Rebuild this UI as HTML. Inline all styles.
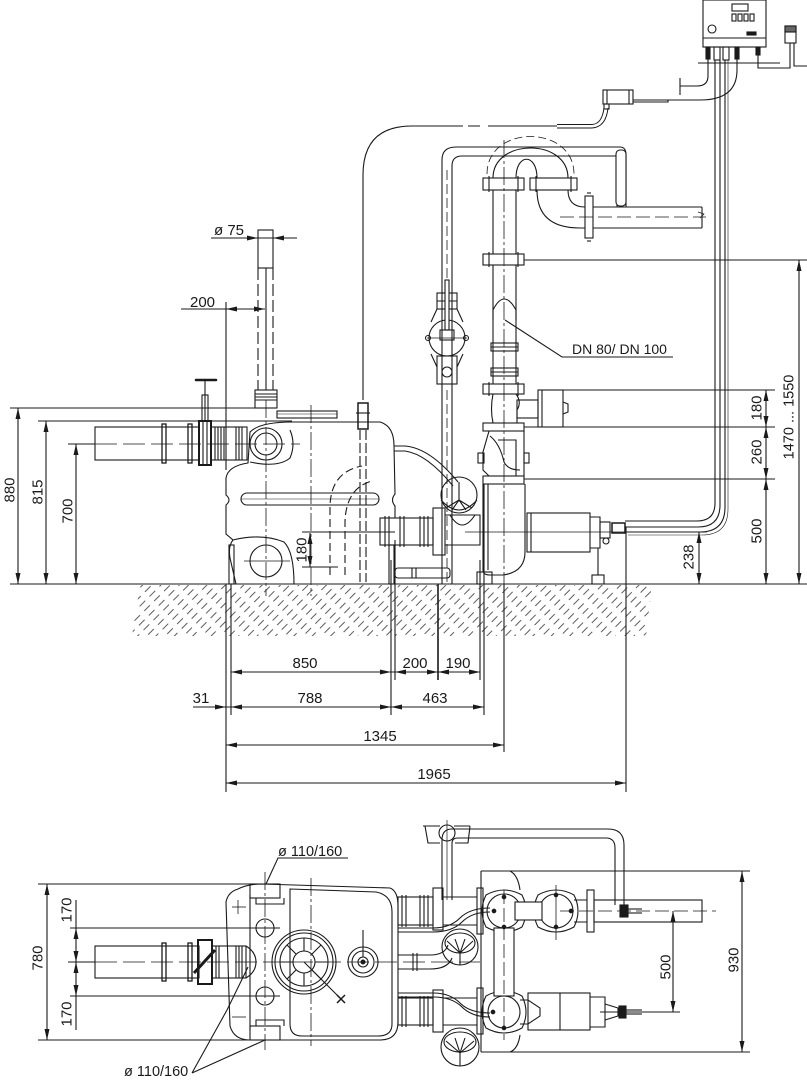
<!DOCTYPE html>
<html><head><meta charset="utf-8"><style>
html,body{margin:0;padding:0;background:#fff;}
svg{display:block;}
text{font-family:"Liberation Sans",sans-serif;font-size:15px;fill:#1a1a1a;}
</style></head><body>
<svg width="807" height="1080" viewBox="0 0 807 1080" xmlns="http://www.w3.org/2000/svg">
<defs>
<pattern id="h" width="6.5" height="14" patternUnits="userSpaceOnUse" patternTransform="rotate(45)">
<line x1="1" y1="0" x2="1" y2="8" stroke="#333" stroke-width="0.8"/>
</pattern>
</defs>

<!-- ground hatch -->
<polygon points="140,585 652,585 646,636 132,636" fill="url(#h)" stroke="none"/>

<g fill="none" stroke="#1a1a1a" stroke-width="1.1">
<!-- ground line -->
<line x1="10" y1="584" x2="807" y2="584"/>

<!-- ===== LEFT DIMENSIONS (side view) ===== -->
<line x1="10" y1="408" x2="256" y2="408"/>
<line x1="38" y1="421" x2="292" y2="421"/>
<line x1="68" y1="444" x2="95" y2="444"/>
<line x1="18" y1="408" x2="18" y2="584"/>
<line x1="46" y1="421" x2="46" y2="584"/>
<line x1="76" y1="444" x2="76" y2="584"/>

<!-- ø75 & 200 dims -->
<line x1="211" y1="238" x2="297" y2="238"/>
<line x1="181" y1="309" x2="265" y2="309"/>
<line x1="226" y1="302" x2="226" y2="470"/>
<line x1="226" y1="584" x2="226" y2="792"/>

<!-- inlet pipe (side) -->
<rect x="95" y="427" width="104" height="33"/>
<rect x="162" y="424" width="4" height="39" stroke-width="1.3"/>
<rect x="188" y="424" width="4" height="39" stroke-width="1.3"/>
<rect x="199" y="421" width="12" height="44" stroke-width="2"/>
<line x1="203" y1="421" x2="203" y2="465"/>
<line x1="207" y1="421" x2="207" y2="465"/>
<rect x="211" y="427" width="36" height="33"/>
<line x1="215" y1="427" x2="215" y2="460"/><line x1="218" y1="427" x2="218" y2="460"/>
<line x1="221" y1="427" x2="221" y2="460"/><line x1="224" y1="427" x2="224" y2="460"/>
<line x1="236" y1="427" x2="236" y2="460"/><line x1="239" y1="427" x2="239" y2="460"/>
<line x1="242" y1="427" x2="242" y2="460"/>
<line x1="95" y1="444" x2="300" y2="444" stroke-dasharray="22 6" stroke-width="0.8"/>
<!-- handle -->
<line x1="205" y1="380" x2="205" y2="421"/>
<rect x="202" y="395" width="6" height="26"/>
<line x1="196" y1="380" x2="216" y2="380" stroke-width="2.5" stroke-linecap="round"/>

<!-- vent pipe ø75 -->
<rect x="258" y="230" width="15" height="38"/>
<line x1="258" y1="268" x2="258" y2="390" stroke-dasharray="12 4"/>
<line x1="273" y1="268" x2="273" y2="390" stroke-dasharray="12 4"/>
<line x1="266" y1="268" x2="266" y2="390"/>
<rect x="255" y="390" width="22" height="18"/>
<line x1="255" y1="394" x2="277" y2="394"/><line x1="255" y1="397" x2="277" y2="397"/><line x1="255" y1="400" x2="277" y2="400"/>
<rect x="277" y="411" width="60" height="7"/>
<line x1="277" y1="414" x2="337" y2="414" stroke-width="0.6"/>

<!-- tank body (side) -->
<path d="M236,584 L230,558 Q228,546 233,540 L226,534 L226,505 Q232,500 226,495 L226,478 Q228,466 248,463 L250,432 Q260,422 292,422 L380,422 Q394,426 394,446 L395,494 Q390,500 395,506 L395,518"/>
<path d="M233,540 Q262,533 284,542 Q294,552 294,584"/>
<path d="M250,462 Q278,468 290,458 Q296,444 290,430"/>
<circle cx="266" cy="444" r="16"/><circle cx="266" cy="444" r="11"/>
<circle cx="266" cy="561" r="16"/>
<rect x="241" y="493" width="138" height="12" rx="6"/>
<line x1="241" y1="499" x2="379" y2="499" stroke-width="0.6"/>
<line x1="266" y1="400" x2="266" y2="596" stroke-dasharray="18 3 3 3" stroke-width="0.8"/>
<line x1="311" y1="405" x2="311" y2="596" stroke-dasharray="18 3 3 3" stroke-width="0.8"/>
<line x1="244" y1="561" x2="290" y2="561" stroke-width="0.8"/>
<!-- inner dashed elbow -->
<path d="M330,575 L330,508 Q330,472 362,466" stroke-dasharray="8 4"/>
<path d="M345,575 L345,522 Q346,488 372,481" stroke-dasharray="8 4"/>
<!-- inner 180 dim -->
<line x1="302" y1="532" x2="395" y2="532"/>
<line x1="302" y1="567" x2="338" y2="567"/>
<line x1="310" y1="533" x2="310" y2="567"/>
<!-- level sensor -->
<path d="M363,400 L363,175 Q363,126 412,126 L463,126 M468,126 L480,126 M488,126 L557,126"/>
<path d="M557,124.5 L592,124.5 Q602,124 604,108 M557,128 L592,128 Q606,127 608,108" stroke-width="1"/>
<rect x="358" y="403" width="10" height="26" stroke-width="1.5"/>
<line x1="356" y1="413" x2="370" y2="413"/>
<line x1="360" y1="430" x2="360" y2="582" stroke-dasharray="10 3"/>
<line x1="366" y1="430" x2="366" y2="582" stroke-dasharray="10 3"/>
<rect x="603" y="90" width="30" height="14"/>
<line x1="607" y1="90" x2="607" y2="104"/><line x1="629" y1="90" x2="629" y2="104"/>
<rect x="604" y="104" width="5" height="5"/>
<!-- bolts -->
<rect x="229" y="545" width="5" height="39"/>
<rect x="389" y="545" width="5" height="39"/>
<line x1="231" y1="584" x2="231" y2="715"/>
<line x1="391" y1="560" x2="391" y2="715"/>
<line x1="395" y1="540" x2="395" y2="680"/>

<!-- bypass thin pipe -->
<path d="M442,584 L442,160 Q442,147 456,147 L620,147 Q626,147 626,155 L626,207"/>
<path d="M452,584 L452,166 Q452,156 462,156 L617,156 L617,207"/>
<line x1="447" y1="390" x2="447" y2="584" stroke-dasharray="10 4" stroke-width="0.8"/>
<line x1="447" y1="170" x2="447" y2="290" stroke-dasharray="10 4" stroke-width="0.8"/>
<!-- valve on bypass -->
<rect x="437" y="293" width="20" height="16"/>
<line x1="437" y1="301" x2="457" y2="301"/>
<circle cx="447" cy="338" r="18"/>
<line x1="427" y1="338" x2="467" y2="338" stroke-width="0.7"/>
<rect x="445" y="280" width="4" height="50" fill="#fff"/>
<rect x="440" y="330" width="14" height="10"/>
<path d="M437,309 L431,322 M457,309 L463,322 M437,367 L431,354 M457,367 L463,354"/>
<rect x="437" y="356" width="20" height="28"/>
<circle cx="447" cy="372" r="5"/>
<circle cx="428" cy="338" r="2.5"/><circle cx="466" cy="338" r="2.5"/>

<!-- riser & U bend -->
<line x1="504" y1="140" x2="504" y2="584" stroke-dasharray="18 3 3 3" stroke-width="0.8"/>
<line x1="504" y1="584" x2="504" y2="752"/>
<line x1="493" y1="190" x2="493" y2="254"/><line x1="516" y1="190" x2="516" y2="254"/>
<line x1="493" y1="265" x2="493" y2="384"/><line x1="516" y1="265" x2="516" y2="384"/>
<path d="M493,178 C493,138 568,138 568,178"/>
<path d="M516,178 C516,153 537,153 537,178"/>
<path d="M487,174 C487,124 574,124 574,174" stroke-dasharray="8 4" stroke-width="0.8"/>
<rect x="483" y="178" width="41" height="12"/>
<line x1="489" y1="176" x2="489" y2="192"/><line x1="518" y1="176" x2="518" y2="192"/>
<rect x="530" y="178" width="47" height="12"/>
<line x1="536" y1="176" x2="536" y2="192"/><line x1="571" y1="176" x2="571" y2="192"/>
<rect x="483" y="254" width="41" height="11"/>
<line x1="489" y1="252" x2="489" y2="267"/><line x1="518" y1="252" x2="518" y2="267"/>
<path d="M493,320 L493,310 Q504,288 516,310 L516,320"/>
<rect x="491" y="343" width="27" height="8"/>
<line x1="491" y1="347" x2="518" y2="347"/>
<rect x="491" y="368" width="27" height="8"/>
<line x1="491" y1="372" x2="518" y2="372"/>
<!-- elbow to right -->
<path d="M537,190 Q537,228 580,228 L585,228"/>
<path d="M568,190 Q568,207 585,207"/>
<rect x="585" y="196" width="8" height="42"/>
<line x1="587" y1="193" x2="591" y2="193"/><line x1="587" y1="241" x2="591" y2="241"/>
<line x1="593" y1="207" x2="702" y2="207"/>
<line x1="593" y1="228" x2="702" y2="228"/>
<line x1="702" y1="207" x2="702" y2="228"/>
<path d="M698,212 L704,214 L700,218" stroke-width="0.7"/>
<line x1="560" y1="217" x2="706" y2="217" stroke-dasharray="14 5" stroke-width="0.8"/>
<rect x="616" y="150" width="10" height="56" rx="4" fill="#fff"/>

<!-- DN label leader -->
<path d="M505,320 L562,357 L673,357"/>

<!-- gate valve & check valve -->
<rect x="483" y="384" width="41" height="10"/>
<line x1="489" y1="382" x2="489" y2="396"/><line x1="518" y1="382" x2="518" y2="396"/>
<path d="M493,394 Q490,409 493,423 M516,394 Q522,402 517,410 L517,423"/>
<rect x="517" y="400" width="21" height="18"/>
<rect x="538" y="390" width="25" height="37"/>
<line x1="542" y1="390" x2="542" y2="427"/>
<path d="M563,402 L568,404 L568,412 L563,414"/>
<rect x="483" y="423" width="41" height="8"/>
<path d="M489,431 L483,452 L483,470 L489,476 L524,476 L524,431"/>
<path d="M490,436 Q500,444 504,462 Q508,470 520,470"/>
<path d="M498,440 L516,440 L516,476"/>
<rect x="478" y="453" width="6" height="10"/>
<rect x="524" y="453" width="5" height="10"/>
<rect x="483" y="476" width="41" height="8"/>
<!-- pump casing -->
<path d="M483,484 L483,570 Q483,575 490,575 L503,575 Q525,572 525,552 L525,513"/>
<line x1="525" y1="484" x2="525" y2="513"/>
<line x1="488" y1="484" x2="488" y2="570"/>
<rect x="477" y="572" width="15" height="12"/>
<line x1="484" y1="484" x2="484" y2="715"/>
<line x1="480" y1="560" x2="480" y2="680"/>
<line x1="438" y1="584" x2="438" y2="680" stroke-width="1.6"/>
<!-- motor -->
<rect x="527" y="513" width="63" height="39"/>
<line x1="531" y1="513" x2="531" y2="552"/>
<path d="M590,517 L600,517 L600,548 L590,548"/>
<rect x="600" y="522" width="10" height="16"/>
<rect x="612" y="523" width="13" height="10" stroke-width="1.5"/>
<line x1="598" y1="548" x2="598" y2="575"/>
<rect x="592" y="575" width="12" height="9"/>
<circle cx="606" cy="541" r="3"/>
<line x1="465" y1="532" x2="707" y2="532" stroke-width="0.8"/>
<line x1="626" y1="527" x2="626" y2="792"/>
<!-- suction side -->
<rect x="380" y="518" width="53" height="27"/>
<line x1="385" y1="516" x2="385" y2="547"/><line x1="389" y1="516" x2="389" y2="547"/>
<line x1="400" y1="516" x2="400" y2="547"/><line x1="404" y1="516" x2="404" y2="547"/>
<line x1="420" y1="516" x2="420" y2="547"/><line x1="424" y1="516" x2="424" y2="547"/><line x1="428" y1="516" x2="428" y2="547"/>
<rect x="433" y="508" width="12" height="47"/>
<path d="M445,515 L480,515 L480,545 L445,545"/>
<path d="M450,515 Q462,535 475,515"/>
<circle cx="459" cy="495" r="18"/>
<path d="M441,500 Q459,520 477,500"/>
<path d="M459,482 L459,500 M459,500 L446,508 M459,500 L472,508 M459,500 L452,510 M459,500 L466,510"/>
<rect x="395" y="568" width="55" height="10" rx="3"/>
<line x1="412" y1="568" x2="412" y2="578"/><line x1="416" y1="568" x2="416" y2="578"/>
<!-- cable from tank to pump -->
<path d="M394,446 L405,446 Q430,448 458,482"/>
<path d="M394,451 L405,451 Q427,454 453,486"/>

<!-- controller -->
<rect x="703" y="0" width="63" height="47"/>
<line x1="703" y1="38" x2="766" y2="38"/>
<rect x="732" y="4" width="16" height="7"/>
<rect x="732" y="14" width="4" height="7"/><rect x="738" y="14" width="4" height="7"/>
<rect x="744" y="14" width="4" height="7"/><rect x="750" y="14" width="4" height="7"/>
<circle cx="712" cy="29" r="4"/>
<rect x="747" y="32" width="9" height="3" fill="#1a1a1a"/>
<rect x="706" y="47" width="4" height="12" fill="#1a1a1a"/>
<rect x="714" y="47" width="6" height="13"/>
<rect x="723" y="47" width="6" height="13"/>
<rect x="735" y="47" width="4" height="12" fill="#1a1a1a"/>
<rect x="756" y="47" width="4" height="8" fill="#1a1a1a"/>
<line x1="698" y1="63" x2="780" y2="63"/>
<path d="M758,55 L758,68 L790,68 L790,43"/>
<rect x="785" y="26" width="11" height="17"/>
<rect x="785" y="26" width="11" height="6" fill="#666"/>
<path d="M794,43 L794,66 L807,66"/>
<path d="M708,59 L708,76 Q708,86 697,86 L680,86 M680,78 L680,95"/>
<path d="M737,59 L737,70 Q737,100 700,100 L668,100"/>
<path d="M633,100 L668,100 L668,102 L633,102"/>
<!-- vertical cables -->
<path d="M715,60 L715,503 Q715,521 697,521 L625,521"/>
<path d="M720,60 L720,505 Q720,527 698,527 L625,527"/>
<path d="M725,60 L725,507 Q725,532 700,532 L625,532"/>
<path d="M728,60 L728,509 Q728,535 702,535 L628,535" stroke-width="0.6"/>

<!-- right extension lines -->
<line x1="524" y1="260" x2="807" y2="260"/>
<line x1="563" y1="390" x2="775" y2="390"/>
<line x1="524" y1="427" x2="775" y2="427"/>
<line x1="524" y1="479" x2="775" y2="479"/>
<line x1="766" y1="390" x2="766" y2="584"/>
<line x1="799" y1="260" x2="799" y2="584"/>
<line x1="699" y1="532" x2="699" y2="584"/>

<!-- bottom dims -->
<line x1="231" y1="672" x2="480" y2="672"/>
<line x1="193" y1="707" x2="484" y2="707"/>
<line x1="226" y1="745" x2="504" y2="745"/>
<line x1="226" y1="783" x2="626" y2="783"/>

<!-- ===== BOTTOM (PLAN) VIEW ===== -->
<line x1="38" y1="884" x2="250" y2="884"/>
<line x1="38" y1="1040" x2="262" y2="1040"/>
<line x1="47" y1="884" x2="47" y2="1040"/>
<line x1="70" y1="928" x2="280" y2="928"/>
<line x1="70" y1="996" x2="280" y2="996"/>
<line x1="76" y1="900" x2="76" y2="1030"/>
<line x1="68" y1="962" x2="95" y2="962"/>
<line x1="95" y1="962" x2="480" y2="962" stroke-dasharray="22 6" stroke-width="0.8"/>
<!-- inlet pipe plan -->
<rect x="95" y="946" width="104" height="32"/>
<rect x="162" y="943" width="4" height="38" stroke-width="1.3"/>
<rect x="188" y="943" width="4" height="38" stroke-width="1.3"/>
<rect x="198" y="940" width="14" height="44" stroke-width="2"/>
<line x1="194" y1="973" x2="215" y2="950" stroke-width="3"/>
<rect x="212" y="946" width="34" height="32"/>
<line x1="216" y1="946" x2="216" y2="978"/><line x1="219" y1="946" x2="219" y2="978"/>
<line x1="236" y1="946" x2="236" y2="978"/><line x1="239" y1="946" x2="239" y2="978"/><line x1="242" y1="946" x2="242" y2="978"/>
<path d="M246,946 Q256,952 256,962 Q256,972 246,978"/>
<!-- tank plan -->
<path d="M238,889 Q248,884 262,884 L390,888 Q398,891 398,906 L398,1022 Q398,1040 380,1040 L250,1040 Q234,1040 230,1026 L226,902 Q228,892 238,889 Z"/>
<path d="M290,889 L376,892 Q392,895 392,912 L392,1024 Q392,1036 378,1036 L302,1036 Q290,1036 290,1024 Z"/>
<path d="M250,895 L250,1030"/>
<rect x="250" y="884" width="30" height="14"/>
<rect x="250" y="1026" width="30" height="14"/>
<path d="M256,898 L256,904 L284,904 L284,898 M256,1026 L256,1020 L284,1020 L284,1026"/>
<circle cx="265" cy="928" r="9"/>
<circle cx="265" cy="996" r="9"/>
<circle cx="304" cy="962" r="32"/>
<circle cx="304" cy="962" r="29"/>
<circle cx="304" cy="962" r="24"/>
<circle cx="304" cy="962" r="11"/>
<path d="M304,938 L304,951 M304,973 L304,986 M280,962 L293,962 M315,962 L328,962 M287,945 L296,954 M321,945 L312,954 M287,979 L296,970 M321,979 L312,970"/>
<line x1="304" y1="962" x2="341" y2="999"/>
<path d="M337,995 L345,1003 M345,995 L337,1003" stroke-width="1.5"/>
<circle cx="363" cy="962" r="15"/>
<circle cx="363" cy="962" r="11"/>
<circle cx="363" cy="962" r="5"/>
<circle cx="363" cy="962" r="2" fill="#1a1a1a"/>
<line x1="363" y1="930" x2="363" y2="957"/>
<line x1="265" y1="872" x2="265" y2="1050" stroke-dasharray="18 3 3 3" stroke-width="0.8"/>
<line x1="311" y1="878" x2="311" y2="1046" stroke-dasharray="18 3 3 3" stroke-width="0.8"/>
<line x1="232" y1="907" x2="246" y2="907" stroke-width="0.8"/><line x1="238" y1="900" x2="238" y2="914" stroke-width="0.8"/>
<line x1="232" y1="1017" x2="246" y2="1017" stroke-width="0.8"/>
<!-- labels leaders -->
<path d="M348,858 L278,858 L266,884"/>
<path d="M192,1073 L265,1040 M192,1073 L227,1010 L248,967"/>

<!-- right plan: rows -->
<rect x="398" y="897" width="35" height="28"/>
<line x1="402" y1="895" x2="402" y2="927"/><line x1="406" y1="895" x2="406" y2="927"/>
<line x1="420" y1="895" x2="420" y2="927"/><line x1="424" y1="895" x2="424" y2="927"/><line x1="428" y1="895" x2="428" y2="927"/>
<rect x="433" y="888" width="10" height="42"/>
<path d="M443,897 L477,897 M443,925 L477,925"/>
<rect x="477" y="888" width="6" height="46"/>
<rect x="398" y="998" width="35" height="27"/>
<line x1="402" y1="996" x2="402" y2="1027"/><line x1="406" y1="996" x2="406" y2="1027"/>
<line x1="420" y1="996" x2="420" y2="1027"/><line x1="424" y1="996" x2="424" y2="1027"/><line x1="428" y1="996" x2="428" y2="1027"/>
<rect x="433" y="990" width="10" height="42"/>
<path d="M443,998 L477,998 M443,1025 L477,1025"/>
<rect x="477" y="988" width="6" height="46"/>
<!-- middle pipe -->
<path d="M398,955 L430,955 Q445,955 448,945 M398,969 L430,969 Q448,969 452,958"/>
<line x1="413" y1="953" x2="413" y2="971"/><line x1="417" y1="953" x2="417" y2="971"/>
<!-- small cables -->
<path d="M398,928 L433,928 Q450,928 460,918 Q470,908 490,908"/>
<path d="M398,932 L433,932 Q452,932 462,922 Q472,912 490,912"/>
<path d="M398,993 L433,993 Q450,993 460,1003 Q470,1013 490,1013"/>
<path d="M398,997 L433,997 Q452,997 462,1007 Q472,1017 490,1017"/>
<!-- impellers -->
<circle cx="460" cy="947" r="18"/>
<ellipse cx="460" cy="943" rx="15" ry="10"/>
<path d="M460,953 L447,941 M460,953 L473,941 M460,953 L455,939 M460,953 L465,939 M460,953 L460,965"/>
<circle cx="460" cy="1047" r="19"/>
<ellipse cx="460" cy="1042" rx="16" ry="10"/>
<path d="M460,1053 L446,1041 M460,1053 L474,1041 M460,1053 L455,1038 M460,1053 L465,1038 M460,1053 L460,1066"/>
<!-- frame outline -->
<path d="M481,871 L481,1052"/>
<path d="M481,871 L510,871 Q518,875 520,890"/>
<path d="M481,1052 L510,1052 Q518,1049 520,1035"/>
<line x1="481" y1="871" x2="750" y2="871"/>
<line x1="481" y1="1052" x2="750" y2="1052"/>
<line x1="742" y1="871" x2="742" y2="1052"/>
<!-- volutes -->
<circle cx="504" cy="911" r="17"/>
<path d="M486,895 Q504,885 522,895 Q530,911 522,927 Q504,937 486,927 Q478,911 486,895 Z"/>
<circle cx="556" cy="911" r="17"/>
<path d="M538,895 Q556,885 574,895 Q582,911 574,927 Q556,937 538,927 Q530,911 538,895 Z"/>
<rect x="515" y="902" width="27" height="18" fill="#fff"/>
<circle cx="504" cy="1012" r="16"/>
<path d="M486,996 Q504,986 522,996 Q530,1012 522,1028 Q504,1038 486,1028 Q478,1012 486,996 Z"/>
<rect x="494" y="928" width="20" height="68" fill="#fff"/>
<line x1="504" y1="890" x2="504" y2="1040" stroke-dasharray="14 4" stroke-width="0.8"/>
<line x1="556" y1="885" x2="556" y2="940" stroke-width="0.8"/>
<circle cx="494" cy="911" r="1.8" fill="#1a1a1a"/><circle cx="504" cy="897" r="1.8" fill="#1a1a1a"/><circle cx="504" cy="927" r="1.8" fill="#1a1a1a"/>
<circle cx="556" cy="895" r="1.8" fill="#1a1a1a"/><circle cx="556" cy="927" r="1.8" fill="#1a1a1a"/><circle cx="571" cy="911" r="1.8" fill="#1a1a1a"/>
<circle cx="504" cy="1028" r="1.8" fill="#1a1a1a"/><circle cx="493" cy="1012" r="1.8" fill="#1a1a1a"/>
<!-- top right pipe -->
<path d="M574,900 L587,900 M574,922 L587,922"/>
<rect x="587" y="890" width="7" height="42"/>
<rect x="594" y="900" width="108" height="22"/>
<line x1="560" y1="911" x2="716" y2="911" stroke-dasharray="14 5" stroke-width="0.8"/>
<rect x="620" y="905" width="8" height="12" fill="#1a1a1a"/>
<line x1="628" y1="909" x2="642" y2="909"/><line x1="628" y1="913" x2="642" y2="913"/>
<line x1="673" y1="911" x2="673" y2="1012"/>
<!-- bottom motor -->
<path d="M520,1000 L528,1000 L540,1008 L540,1016 L528,1024 L520,1024"/>
<rect x="528" y="993" width="62" height="37"/>
<line x1="560" y1="993" x2="560" y2="1030"/>
<path d="M590,997 L605,997 L605,1027 L590,1027"/>
<path d="M605,1004 L618,1008 L618,1016 L605,1020"/>
<rect x="619" y="1006" width="7" height="12" fill="#1a1a1a"/>
<line x1="626" y1="1010" x2="642" y2="1010"/><line x1="626" y1="1014" x2="642" y2="1014"/>
<line x1="600" y1="1012" x2="680" y2="1012"/>
<!-- bypass plan -->
<path d="M442,900 L442,840 Q442,829 452,829 L608,829 Q624,829 624,845 L624,905"/>
<path d="M452,900 L452,843 Q452,838 458,838 L606,838 Q615,838 615,848 L615,905"/>
<circle cx="447" cy="833" r="8"/>
<path d="M423,826 L440,826 M454,826 L470,826 M425,826 L428,843 L440,843 M470,826 L468,843 L455,843"/>
<line x1="447" y1="820" x2="447" y2="900" stroke-width="0.7"/>
</g>

<!-- arrowheads -->
<g fill="#1a1a1a" stroke="none">
<polygon points="18,408 15.5,419 20.5,419"/><polygon points="18,584 15.5,573 20.5,573"/>
<polygon points="46,421 43.5,432 48.5,432"/><polygon points="46,584 43.5,573 48.5,573"/>
<polygon points="76,444 73.5,455 78.5,455"/><polygon points="76,584 73.5,573 78.5,573"/>
<polygon points="766,390 763.5,401 768.5,401"/><polygon points="766,427 763.5,416 768.5,416"/>
<polygon points="766,427 763.5,438 768.5,438"/><polygon points="766,479 763.5,468 768.5,468"/>
<polygon points="766,479 763.5,490 768.5,490"/><polygon points="766,584 763.5,573 768.5,573"/>
<polygon points="799,260 796.5,271 801.5,271"/><polygon points="799,584 796.5,573 801.5,573"/>
<polygon points="699,532 696.5,543 701.5,543"/><polygon points="699,584 696.5,573 701.5,573"/>
<polygon points="310,533 307.5,544 312.5,544"/><polygon points="310,567 307.5,556 312.5,556"/>
<polygon points="258,238 247,235.5 247,240.5"/><polygon points="273,238 284,235.5 284,240.5"/>
<polygon points="226,309 237,306.5 237,311.5"/><polygon points="265,309 254,306.5 254,311.5"/>
<polygon points="231,672 242,669.5 242,674.5"/><polygon points="391,672 380,669.5 380,674.5"/>
<polygon points="395,672 406,669.5 406,674.5"/><polygon points="438,672 427,669.5 427,674.5"/>
<polygon points="438,672 449,669.5 449,674.5"/><polygon points="480,672 469,669.5 469,674.5"/>
<polygon points="226,707 215,704.5 215,709.5"/><polygon points="231,707 242,704.5 242,709.5"/>
<polygon points="391,707 380,704.5 380,709.5"/><polygon points="391,707 402,704.5 402,709.5"/>
<polygon points="484,707 473,704.5 473,709.5"/>
<polygon points="226,745 237,742.5 237,747.5"/><polygon points="504,745 493,742.5 493,747.5"/>
<polygon points="226,783 237,780.5 237,785.5"/><polygon points="626,783 615,780.5 615,785.5"/>
<polygon points="47,884 44.5,895 49.5,895"/><polygon points="47,1040 44.5,1029 49.5,1029"/>
<polygon points="76,928 73.5,939 78.5,939"/><polygon points="76,962 73.5,951 78.5,951"/>
<polygon points="76,962 73.5,973 78.5,973"/><polygon points="76,996 73.5,985 78.5,985"/>
<polygon points="742,871 739.5,882 744.5,882"/><polygon points="742,1052 739.5,1041 744.5,1041"/>
<polygon points="673,911 670.5,922 675.5,922"/><polygon points="673,1012 670.5,1001 675.5,1001"/>
</g>

<!-- texts -->
<g text-anchor="middle">
<text transform="translate(9,490) rotate(-90)" y="5.5">880</text>
<text transform="translate(37,492) rotate(-90)" y="5.5">815</text>
<text transform="translate(67,511) rotate(-90)" y="5.5">700</text>
<text transform="translate(301,550) rotate(-90)" y="5.5">180</text>
<text transform="translate(756,408) rotate(-90)" y="5.5">180</text>
<text transform="translate(756,452) rotate(-90)" y="5.5">260</text>
<text transform="translate(756,531) rotate(-90)" y="5.5">500</text>
<text transform="translate(688,557) rotate(-90)" y="5.5">238</text>
<text transform="translate(788,417) rotate(-90)" y="5.5" style="font-size:14.5px">1470 ... 1550</text>
<text transform="translate(37,958) rotate(-90)" y="5.5">780</text>
<text transform="translate(66,910) rotate(-90)" y="5.5">170</text>
<text transform="translate(66,1014) rotate(-90)" y="5.5">170</text>
<text transform="translate(733,960) rotate(-90)" y="5.5">930</text>
<text transform="translate(665,967) rotate(-90)" y="5.5">500</text>
<text x="305" y="668">850</text>
<text x="415" y="668">200</text>
<text x="458" y="668">190</text>
<text x="201" y="703">31</text>
<text x="310" y="703">788</text>
<text x="435" y="703">463</text>
<text x="380" y="741">1345</text>
<text x="434" y="779">1965</text>
</g>
<text x="214" y="235">ø 75</text>
<text x="190" y="307">200</text>
<text x="572" y="354" style="font-size:14px">DN 80/ DN 100</text>
<text x="278" y="856" style="font-size:14.5px">ø 110/160</text>
<text x="124" y="1076" style="font-size:14.5px">ø 110/160</text>
</svg>
</body></html>
